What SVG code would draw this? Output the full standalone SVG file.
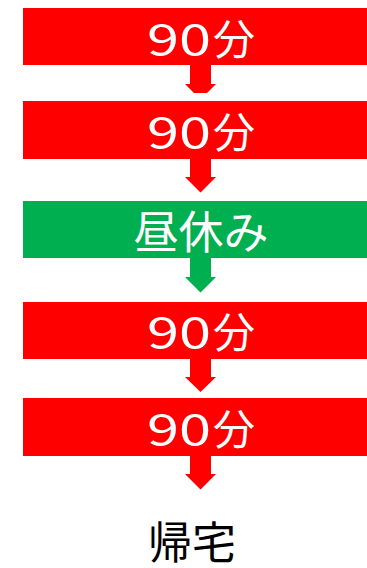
<svg xmlns="http://www.w3.org/2000/svg" width="367" height="568" viewBox="0 0 367 568">
<style>
.red{fill:#FF0000}
.green{fill:#00B050}
.lbl{font-family:"Noto Sans CJK JP","Noto Sans",sans-serif;fill:#FFFFFF;font-size:42px}
.jp{font-family:"Noto Sans CJK JP",sans-serif;fill:#FFFFFF;font-size:45px;text-anchor:middle}
.end{font-family:"Noto Sans CJK JP",sans-serif;fill:#000000;font-size:44px;text-anchor:middle}
</style>
<g id="connectors">
<path class="red" d="M190,64 H211 V84 H216 L207,93 H194 L185,84 H190 Z"/>
<path class="red" d="M190,158 H211 V177 H216 L200.5,192.5 L185,177 H190 Z"/>
<path class="green" d="M190,257 H211 V277 H216 L200.5,292.5 L185,277 H190 Z"/>
<path class="red" d="M190,358 H211 V377 H216 L200.5,392 L185,377 H190 Z"/>
<path class="red" d="M190,455 H211 V474 H216 L200.5,489.5 L185,474 H190 Z"/>
</g>
<g id="n1">
<rect class="red" x="23" y="8" width="344" height="57"/>
<text class="lbl" x="147" y="55" textLength="64" lengthAdjust="spacingAndGlyphs">90</text>
<text class="lbl" x="213" y="55">分</text>
</g>
<g id="n2">
<rect class="red" x="23" y="101" width="344" height="58"/>
<text class="lbl" x="147" y="148" textLength="64" lengthAdjust="spacingAndGlyphs">90</text>
<text class="lbl" x="213" y="148">分</text>
</g>
<g id="n3">
<rect class="green" x="23" y="201" width="344" height="57"/>
<text class="jp" x="201" y="249">昼休み</text>
</g>
<g id="n4">
<rect class="red" x="23" y="302" width="344" height="57"/>
<text class="lbl" x="147" y="348" textLength="64" lengthAdjust="spacingAndGlyphs">90</text>
<text class="lbl" x="213" y="348">分</text>
</g>
<g id="n5">
<rect class="red" x="23" y="398" width="344" height="58"/>
<text class="lbl" x="147" y="445" textLength="64" lengthAdjust="spacingAndGlyphs">90</text>
<text class="lbl" x="213" y="445">分</text>
</g>
<g id="n6">
<text class="end" x="192" y="559">帰宅</text>
</g>
</svg>
